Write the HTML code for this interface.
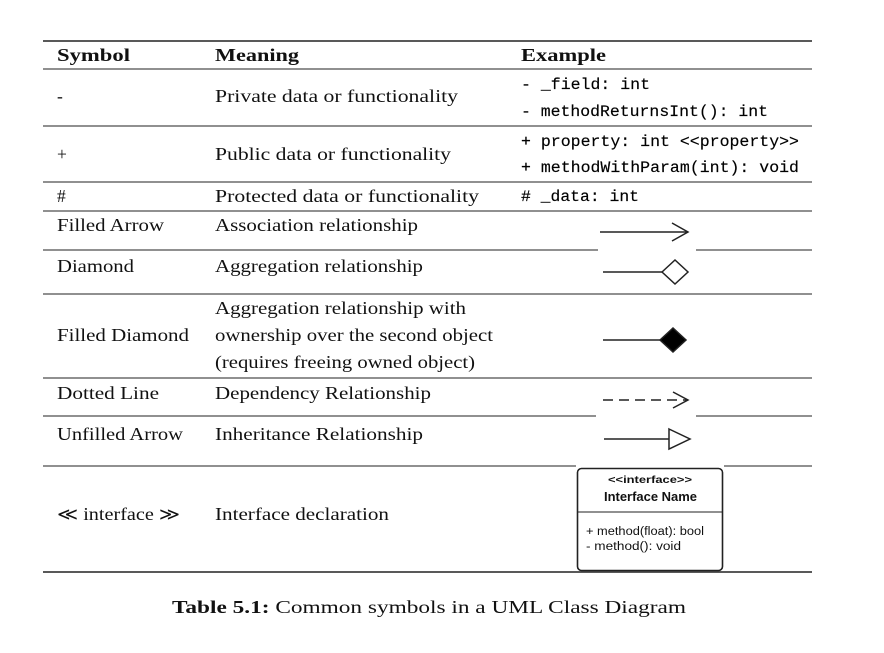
<!DOCTYPE html>
<html><head><meta charset="utf-8"><style>
html,body{margin:0;padding:0;background:#fff;width:884px;height:653px;overflow:hidden}
svg{display:block}
.s{font-family:"Liberation Serif",serif;font-size:17.5px;fill:#111}
.m{font-family:"Liberation Mono",monospace;font-size:15.5px;fill:#000;stroke:#000;stroke-width:0.15}
.b{font-weight:bold}
.a{font-family:"Liberation Sans",sans-serif;fill:#111}
</style></head><body>
<svg width="884" height="653" viewBox="0 0 884 653" xmlns="http://www.w3.org/2000/svg">
<g stroke="#222" fill="none">
<line x1="43" y1="41" x2="812" y2="41" stroke-width="1.4"/>
<line x1="43" y1="69" x2="812" y2="69" stroke-width="1"/>
<line x1="43" y1="126" x2="812" y2="126" stroke-width="1"/>
<line x1="43" y1="182" x2="812" y2="182" stroke-width="1"/>
<line x1="43" y1="211" x2="812" y2="211" stroke-width="1"/>
<line x1="43" y1="250" x2="598" y2="250"/><line x1="696" y1="250" x2="812" y2="250"/>
<line x1="43" y1="294" x2="812" y2="294"/>
<line x1="43" y1="378" x2="812" y2="378"/>
<line x1="43" y1="416" x2="596" y2="416"/><line x1="696" y1="416" x2="812" y2="416"/>
<line x1="43" y1="466" x2="576" y2="466"/><line x1="724" y1="466" x2="812" y2="466"/>
<line x1="43" y1="572" x2="812" y2="572" stroke-width="1.4"/>
<line x1="600" y1="232" x2="688" y2="232" stroke-width="1.5"/>
<polyline points="672,223 688,232 672,241" stroke-width="1.5"/>
<line x1="603" y1="272" x2="662" y2="272" stroke-width="1.5"/>
<polygon points="662,272 675,260 688,272 675,284" stroke-width="1.5"/>
<line x1="603" y1="340" x2="660" y2="340" stroke-width="1.5"/>
<polygon points="660,340 673,328 686,340 673,352" fill="#000" stroke-width="1.5"/>
<line x1="603" y1="400" x2="688" y2="400" stroke-width="1.5" stroke-dasharray="10,6"/>
<polyline points="673,392 688,400 673,408" stroke-width="1.5"/>
<line x1="604" y1="439" x2="669" y2="439" stroke-width="1.5"/>
<polygon points="669,429 690,439 669,449" fill="#fff" stroke-width="1.5"/>
<rect x="577.5" y="468.5" width="145" height="102" rx="4" stroke-width="1.6"/>
<line x1="578" y1="512" x2="722" y2="512" stroke-width="1"/>
</g>
<text class="s b" x="57" y="61" textLength="73" lengthAdjust="spacingAndGlyphs">Symbol</text>
<text class="s b" x="215" y="61" textLength="84" lengthAdjust="spacingAndGlyphs">Meaning</text>
<text class="s b" x="521" y="61" textLength="85" lengthAdjust="spacingAndGlyphs">Example</text>
<text class="s" x="57" y="102">-</text>
<text class="s" x="215" y="102" textLength="243" lengthAdjust="spacingAndGlyphs">Private data or functionality</text>
<text class="m" x="521" y="89" textLength="129" lengthAdjust="spacingAndGlyphs">- _field: int</text>
<text class="m" x="521" y="116" textLength="247" lengthAdjust="spacingAndGlyphs">- methodReturnsInt(): int</text>
<text class="s" x="57" y="160">+</text>
<text class="s" x="215" y="160" textLength="236" lengthAdjust="spacingAndGlyphs">Public data or functionality</text>
<text class="m" x="521" y="146" textLength="278" lengthAdjust="spacingAndGlyphs">+ property: int &lt;&lt;property&gt;&gt;</text>
<text class="m" x="521" y="172" textLength="278" lengthAdjust="spacingAndGlyphs">+ methodWithParam(int): void</text>
<text class="s" x="57" y="202">#</text>
<text class="s" x="215" y="202" textLength="264" lengthAdjust="spacingAndGlyphs">Protected data or functionality</text>
<text class="m" x="521" y="201" textLength="118" lengthAdjust="spacingAndGlyphs"># _data: int</text>
<text class="s" x="57" y="231" textLength="107" lengthAdjust="spacingAndGlyphs">Filled Arrow</text>
<text class="s" x="215" y="231" textLength="203" lengthAdjust="spacingAndGlyphs">Association relationship</text>
<text class="s" x="57" y="272" textLength="77" lengthAdjust="spacingAndGlyphs">Diamond</text>
<text class="s" x="215" y="272" textLength="208" lengthAdjust="spacingAndGlyphs">Aggregation relationship</text>
<text class="s" x="57" y="341" textLength="132" lengthAdjust="spacingAndGlyphs">Filled Diamond</text>
<text class="s" x="215" y="314" textLength="251" lengthAdjust="spacingAndGlyphs">Aggregation relationship with</text>
<text class="s" x="215" y="341" textLength="278" lengthAdjust="spacingAndGlyphs">ownership over the second object</text>
<text class="s" x="215" y="368" textLength="260" lengthAdjust="spacingAndGlyphs">(requires freeing owned object)</text>
<text class="s" x="57" y="399" textLength="102" lengthAdjust="spacingAndGlyphs">Dotted Line</text>
<text class="s" x="215" y="399" textLength="216" lengthAdjust="spacingAndGlyphs">Dependency Relationship</text>
<text class="s" x="57" y="440" textLength="126" lengthAdjust="spacingAndGlyphs">Unfilled Arrow</text>
<text class="s" x="215" y="440" textLength="208" lengthAdjust="spacingAndGlyphs">Inheritance Relationship</text>
<text class="s" x="57" y="520" textLength="123" lengthAdjust="spacingAndGlyphs">≪ interface ≫</text>
<text class="s" x="215" y="520" textLength="174" lengthAdjust="spacingAndGlyphs">Interface declaration</text>
<text class="a" x="608" y="483" font-size="10.5" font-weight="bold" textLength="84" lengthAdjust="spacingAndGlyphs">&lt;&lt;interface&gt;&gt;</text>
<text class="a" x="604" y="501" font-size="12.5" font-weight="bold" textLength="93" lengthAdjust="spacingAndGlyphs">Interface Name</text>
<text class="a" x="586" y="535" font-size="11.5" textLength="118" lengthAdjust="spacingAndGlyphs">+ method(float): bool</text>
<text class="a" x="586" y="550" font-size="11.5" textLength="95" lengthAdjust="spacingAndGlyphs">-  method(): void</text>
<text class="s" x="172" y="613" textLength="514" lengthAdjust="spacingAndGlyphs"><tspan font-weight="bold">Table 5.1:</tspan> Common symbols in a UML Class Diagram</text>
</svg>
</body></html>
